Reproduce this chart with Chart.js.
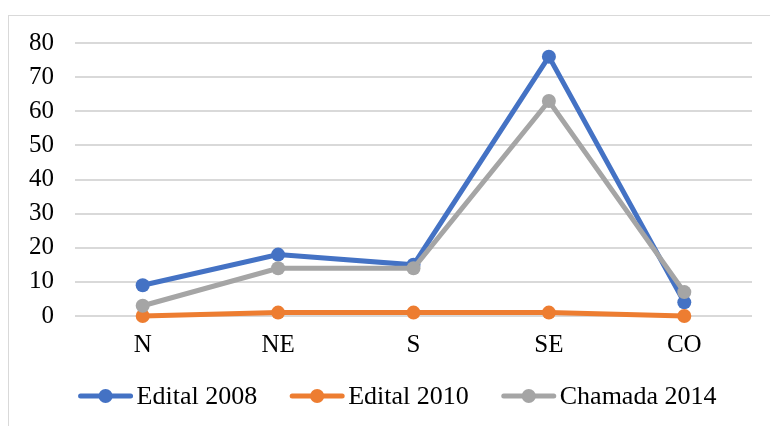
<!DOCTYPE html>
<html>
<head>
<meta charset="utf-8">
<script src="https://cdn.jsdelivr.net/npm/chart.js@4"></script>
<style>
  body { margin: 0; background: #fff; }
  #wrap { width: 770px; height: 426px; position: relative; }
</style>
</head>
<body>
<div id="wrap"><canvas id="myChart"></canvas></div>
<script>
const regioes = ['N', 'NE', 'S', 'SE', 'CO'];
const edital2008 = [9, 18, 15, 76, 4];
const edital2010 = [0, 1, 1, 1, 0];
const chamada2014 = [3, 14, 14, 63, 7];
const yTicks = [0, 10, 20, 30, 40, 50, 60, 70, 80];

const FONT = "'Liberation Serif', 'Times New Roman', serif";

// borda cinza em volta do grafico
const borda = {
  id: 'borda',
  beforeDraw(chart) {
    const c = chart.ctx;
    c.save();
    c.strokeStyle = '#d9d9d9';
    c.lineWidth = 1;
    c.strokeRect(8.5, 15.5, 800, 500);
    c.restore();
  }
};

// legenda estilo Excel: linha com marcador
const legenda = {
  id: 'legenda',
  afterDraw(chart) {
    const c = chart.ctx;
    const sets = chart.data.datasets;
    const lineW = 56, gapTxt = 3, gapItem = 32, y = 396;
    c.save();
    c.font = '26px ' + FONT;
    let total = 0;
    sets.forEach((ds, i) => {
      total += lineW + gapTxt + c.measureText(ds.label).width;
      if (i < sets.length - 1) total += gapItem;
    });
    let x = (chart.width - total) / 2 + 12;
    sets.forEach(ds => {
      c.strokeStyle = ds.borderColor;
      c.lineWidth = 5;
      c.lineCap = 'round';
      c.beginPath();
      c.moveTo(x + 3, y);
      c.lineTo(x + lineW - 3, y);
      c.stroke();
      c.fillStyle = ds.borderColor;
      c.beginPath();
      c.arc(x + lineW / 2, y, 7, 0, Math.PI * 2);
      c.fill();
      c.fillStyle = '#000';
      c.textBaseline = 'middle';
      c.fillText(ds.label, x + lineW + gapTxt, y + 1);
      x += lineW + gapTxt + c.measureText(ds.label).width + gapItem;
    });
    c.restore();
  }
};

const serie = (label, data, cor, ordem) => ({
  label: label,
  data: data,
  borderColor: cor,
  backgroundColor: cor,
  borderWidth: 5,
  pointRadius: 7,
  pointHoverRadius: 7,
  pointBorderWidth: 0,
  tension: 0,
  clip: false,
  order: ordem
});

const ctx = document.getElementById('myChart');

new Chart(ctx, {
  type: 'line',
  data: {
    labels: regioes,
    datasets: [
      serie('Edital 2008', edital2008, '#4472C4', 2),
      serie('Edital 2010', edital2010, '#ED7D31', 1),
      serie('Chamada 2014', chamada2014, '#A5A5A5', 0)
    ]
  },
  options: {
    responsive: true,
    maintainAspectRatio: false,
    animation: false,
    layout: { padding: { left: 8, top: 43, right: 18, bottom: 52 } },
    plugins: {
      legend: { display: false },
      tooltip: { enabled: false }
    },
    scales: {
      x: {
        offset: true,
        grid: { display: false, drawTicks: false },
        border: { display: false },
        ticks: { color: '#000', font: { family: FONT, size: 25 }, padding: 14 }
      },
      y: {
        min: 0,
        max: 80,
        afterBuildTicks(axis) { axis.ticks = yTicks.map(v => ({ value: v })); },
        grid: { color: '#d9d9d9', lineWidth: 2, drawTicks: false },
        border: { display: false },
        ticks: { color: '#000', font: { family: FONT, size: 25 }, padding: 21 }
      }
    }
  },
  plugins: [borda, legenda]
});
</script>
</body>
</html>
